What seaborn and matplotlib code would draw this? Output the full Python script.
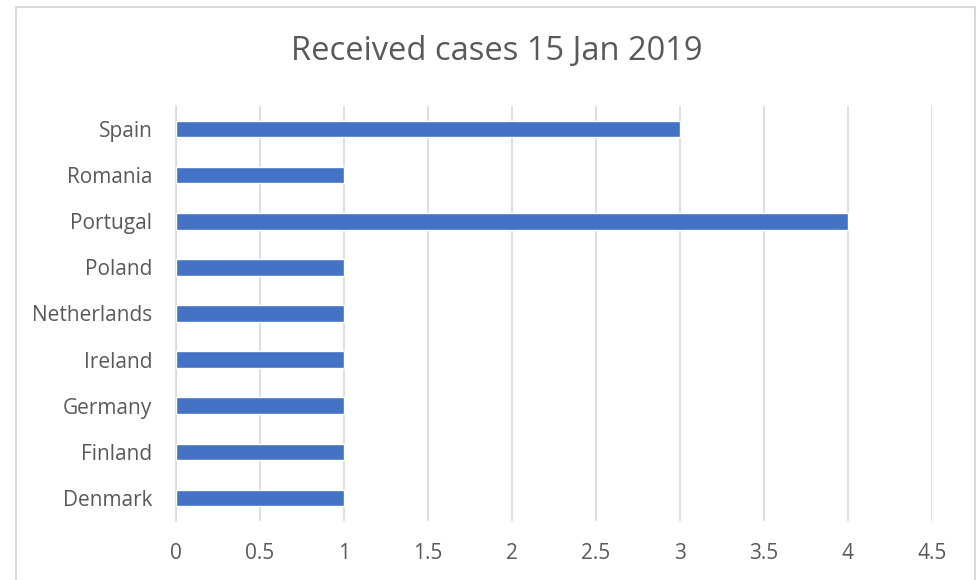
import matplotlib.pyplot as plt
import matplotlib.patches as patches
import seaborn as sns
import pandas as pd

countries = ['Spain', 'Romania', 'Portugal', 'Poland', 'Netherlands',
             'Ireland', 'Germany', 'Finland', 'Denmark']
cases = [3, 1, 4, 1, 1, 1, 1, 1, 1]
xticks = [0, 0.5, 1, 1.5, 2, 2.5, 3, 3.5, 4, 4.5]
xtick_labels = ['0', '0.5', '1', '1.5', '2', '2.5', '3', '3.5', '4', '4.5']

df = pd.DataFrame({'country': countries, 'cases': cases})

sns.set_style('white')
plt.rcParams['font.family'] = ['Open Sans', 'DejaVu Sans']

fig = plt.figure(figsize=(9.77, 5.8), dpi=100)
ax = fig.add_axes([176 / 977, 1 - 521 / 580, (932 - 176) / 977, (521 - 106) / 580])

sns.barplot(data=df, x='cases', y='country', color='#4472C4', saturation=1,
            width=0.36, orient='h', ax=ax, zorder=3)

ax.set_xlim(0, 4.5)
ax.set_xticks(xticks)
ax.set_xticklabels(xtick_labels)
ax.set_xlabel('')
ax.set_ylabel('')
ax.grid(axis='x', color='#d9d9d9', linewidth=1.2, zorder=0)
ax.grid(axis='y', visible=False)
for s in ['top', 'right', 'bottom']:
    ax.spines[s].set_visible(False)
ax.spines['left'].set_color('#d9d9d9')
ax.spines['left'].set_linewidth(1.2)
ax.tick_params(axis='both', length=0, colors='#595959', labelsize=15)
ax.tick_params(axis='x', pad=16)
ax.tick_params(axis='y', pad=17)

fig.text(0.508, 1 - 52 / 580, 'Received cases 15 Jan 2019', ha='center', va='center',
         fontsize=23.5, color='#595959')

border = patches.Rectangle((16 / 977, -0.05), (975 - 16) / 977, 1.05 - 7 / 580,
                           transform=fig.transFigure, fill=False,
                           edgecolor='#d9d9d9', linewidth=1.5, clip_on=False)
fig.patches.append(border)

plt.savefig('out.png', dpi=100)
